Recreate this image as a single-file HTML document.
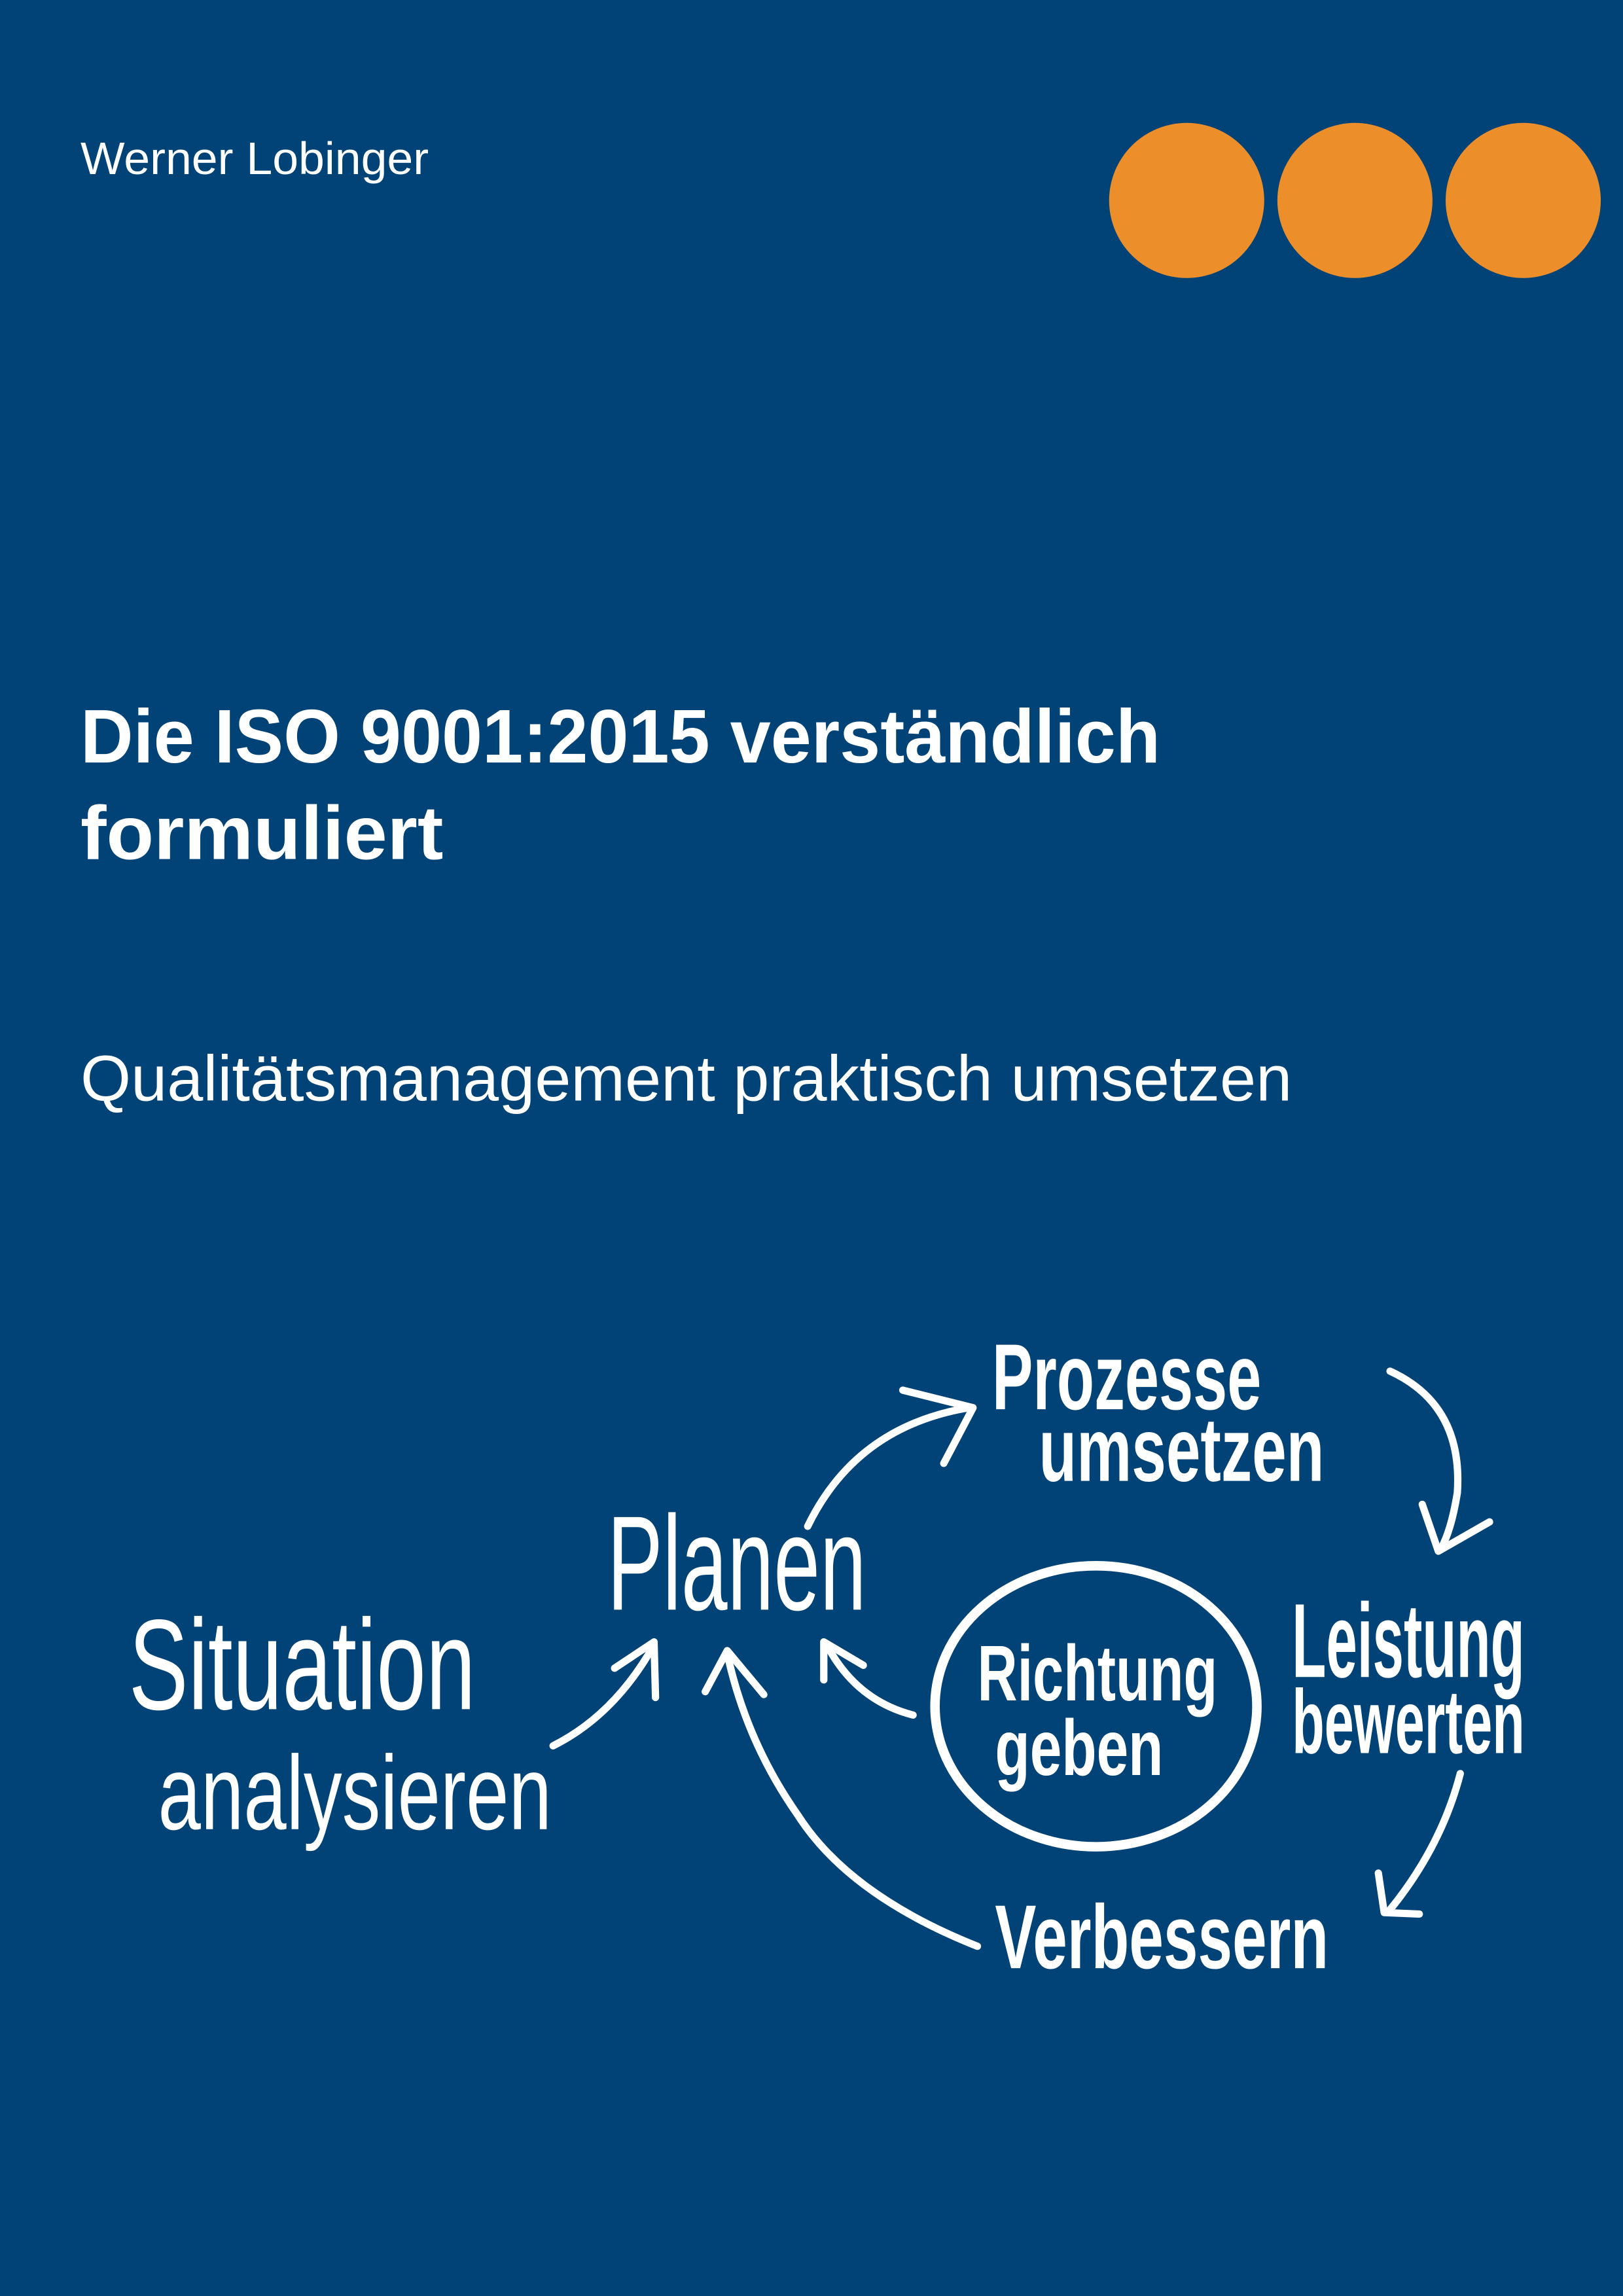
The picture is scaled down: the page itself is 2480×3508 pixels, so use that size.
<!DOCTYPE html>
<html><head><meta charset="utf-8"><style>
html,body{margin:0;padding:0;background:#024377;}
svg{display:block;}
</style></head><body>
<svg width="2480" height="3508" viewBox="0 0 1109.2 1569" xmlns="http://www.w3.org/2000/svg">
<rect width="1109.2" height="1569" fill="#024377"/>
<g fill="#ec8f2a">
<circle cx="811" cy="137" r="53"/>
<circle cx="926" cy="137" r="53"/>
<circle cx="1041" cy="137" r="53"/>
</g>
<g font-family="'Liberation Sans', sans-serif" fill="#fff">
<text x="55" y="119" font-size="31" textLength="238" lengthAdjust="spacingAndGlyphs">Werner Lobinger</text>
<text x="55" y="521" font-size="52" font-weight="bold" textLength="738" lengthAdjust="spacingAndGlyphs">Die ISO 9001:2015 verständlich</text>
<text x="55" y="587" font-size="52" font-weight="bold" textLength="248" lengthAdjust="spacingAndGlyphs">formuliert</text>
<text x="55" y="752" font-size="44" textLength="828" lengthAdjust="spacingAndGlyphs">Qualitätsmanagement praktisch umsetzen</text>
</g>
<g font-family="'Liberation Sans', sans-serif" fill="#fff">
<text x="88" y="1168" font-size="88" textLength="237" lengthAdjust="spacingAndGlyphs">Situation</text>
<text x="108" y="1250" font-size="72" textLength="269" lengthAdjust="spacingAndGlyphs">analysieren</text>
<text x="415" y="1100" font-size="92" textLength="177" lengthAdjust="spacingAndGlyphs">Planen</text>
<text x="678" y="963" font-size="64" font-weight="bold" textLength="184" lengthAdjust="spacingAndGlyphs">Prozesse</text>
<text x="710" y="1012" font-size="62" font-weight="bold" textLength="195" lengthAdjust="spacingAndGlyphs">umsetzen</text>
<text x="883" y="1146" font-size="72" font-weight="bold" textLength="159" lengthAdjust="spacingAndGlyphs">Leistung</text>
<text x="883" y="1198" font-size="62" font-weight="bold" textLength="159" lengthAdjust="spacingAndGlyphs">bewerten</text>
<text x="668" y="1162" font-size="54" font-weight="bold" textLength="164" lengthAdjust="spacingAndGlyphs">Richtung</text>
<text x="680" y="1213" font-size="54" font-weight="bold" textLength="115" lengthAdjust="spacingAndGlyphs">geben</text>
<text x="680" y="1345" font-size="62" font-weight="bold" textLength="228" lengthAdjust="spacingAndGlyphs">Verbessern</text>
</g>
<g fill="none" stroke="#fff" stroke-width="5" stroke-linecap="round" stroke-linejoin="round">
<ellipse cx="749" cy="1166" rx="110" ry="96" stroke-width="6.5"/>
<path d="M378 1193 Q420 1172 447 1124"/>
<path d="M420 1140 L447 1122 L448 1160"/>
<path d="M668 1330 Q580 1295 545 1240 Q510 1190 497 1130"/>
<path d="M482 1156 L497 1128 L522 1158"/>
<path d="M624 1172 Q585 1162 565 1124"/>
<path d="M563 1148 L563 1122 L590 1138"/>
<path d="M552 1043 Q585 975 662 962"/>
<path d="M617 950 L665 962 L645 1000"/>
<path d="M950 937 Q1000 960 996 1020 Q992 1045 985 1058"/>
<path d="M972 1028 L983 1060 L1018 1040"/>
<path d="M998 1212 Q985 1262 950 1305"/>
<path d="M942 1280 L946 1307 L970 1308"/>
</g>
</svg>
</body></html>
